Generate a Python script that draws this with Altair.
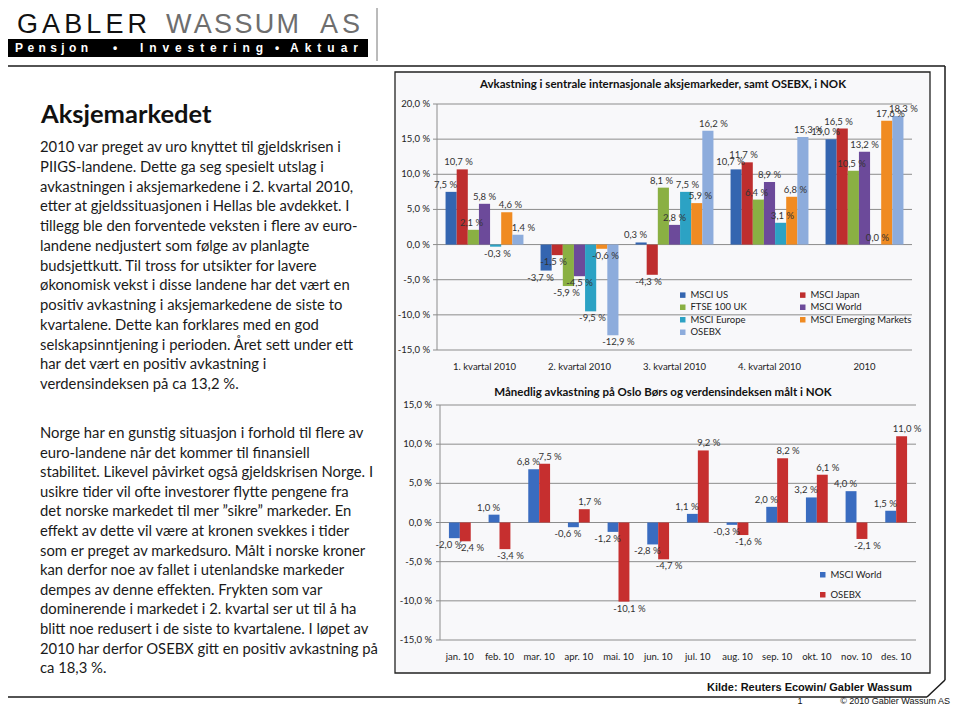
import altair as alt
import pandas as pd

# ---------------- data ----------------
quarters = ["1. kvartal 2010", "2. kvartal 2010", "3. kvartal 2010", "4. kvartal 2010", "2010"]
series = ["MSCI US", "MSCI Japan", "FTSE 100 UK", "MSCI World", "MSCI Europe",
          "MSCI Emerging Markets", "OSEBX"]
series_colors = ["#3465B0", "#BE2E2E", "#8AB043", "#6C4A9A", "#2CA2C4", "#F08B22", "#8DACDC"]
msci_us = [7.5, -3.7, 0.3, 10.7, 15.0]
msci_japan = [10.7, -1.5, -4.3, 11.7, 16.5]
ftse_100_uk = [2.1, -5.9, 8.1, 6.4, 10.5]
msci_world_q = [5.8, -4.5, 2.8, 8.9, 13.2]
msci_europe = [-0.3, -9.5, 7.5, 3.1, 0.0]
msci_em = [4.6, -0.6, 5.9, 6.8, 17.6]
osebx_q = [1.4, -12.9, 16.2, 15.3, 18.3]

months = ["jan. 10", "feb. 10", "mar. 10", "apr. 10", "mai. 10", "jun. 10",
          "jul. 10", "aug. 10", "sep. 10", "okt. 10", "nov. 10", "des. 10"]
monthly_series = ["MSCI World", "OSEBX"]
monthly_colors = ["#3A6CC0", "#C62F2F"]
msci_world_m = [-2.0, 1.0, 6.8, -0.6, -1.2, -2.8, 1.1, -0.3, 2.0, 3.2, 4.0, 1.5]
osebx_m = [-2.4, -3.4, 7.5, 1.7, -10.1, -4.7, 9.2, -1.6, 8.2, 6.1, -2.1, 11.0]

y1_ticks = [-15, -10, -5, 0, 5, 10, 15, 20]
y2_ticks = [-15, -10, -5, 0, 5, 10, 15]

title1 = "Avkastning i sentrale internasjonale aksjemarkeder, samt OSEBX, i NOK"
title2 = "Månedlig avkastning på Oslo Børs og verdensindeksen målt i NOK"
heading = "Aksjemarkedet"
para1 = [
    "2010 var preget av uro knyttet til gjeldskrisen i",
    "PIIGS-landene. Dette ga seg spesielt utslag i",
    "avkastningen i aksjemarkedene i 2. kvartal 2010,",
    "etter at gjeldssituasjonen i Hellas ble avdekket. I",
    "tillegg ble den forventede veksten i flere av euro-",
    "landene nedjustert som følge av planlagte",
    "budsjettkutt. Til tross for utsikter for lavere",
    "økonomisk vekst i disse landene har det vært en",
    "positiv avkastning i aksjemarkedene de siste to",
    "kvartalene. Dette kan forklares med en god",
    "selskapsinntjening i perioden. Året sett under ett",
    "har det vært en positiv avkastning i",
    "verdensindeksen på ca 13,2 %.",
]
para2 = [
    "Norge har en gunstig situasjon i forhold til flere av",
    "euro-landene når det kommer til finansiell",
    "stabilitet. Likevel påvirket også gjeldskrisen Norge. I",
    "usikre tider vil ofte investorer flytte pengene fra",
    "det norske markedet til mer \u201dsikre\u201d markeder. En",
    "effekt av dette vil være at kronen svekkes i tider",
    "som er preget av markedsuro. Målt i norske kroner",
    "kan derfor noe av fallet i utenlandske markeder",
    "dempes av denne effekten. Frykten som var",
    "dominerende i markedet i 2. kvartal ser ut til å ha",
    "blitt noe redusert i de siste to kvartalene. I løpet av",
    "2010 har derfor OSEBX gitt en positiv avkastning på",
    "ca 18,3 %.",
]
logo_words = ["GABLER", "WASSUM", "AS"]
tagline_words = ["Pensjon", "Investering", "Aktuar"]
source_text = "Kilde: Reuters Ecowin/ Gabler Wassum"
page_no = "1"
copyright_text = "\u00a9 2010 Gabler  Wassum AS"


def pct(v):
    return f"{v:.1f}".replace(".", ",") + " %"


rows1 = []
for s, vals in zip(series, [msci_us, msci_japan, ftse_100_uk, msci_world_q,
                            msci_europe, msci_em, osebx_q]):
    for q, v in zip(quarters, vals):
        rows1.append({"period": q, "series": s, "value": v, "label": pct(v)})
df1 = pd.DataFrame(rows1)

rows2 = []
for s, vals in zip(monthly_series, [msci_world_m, osebx_m]):
    for m, v in zip(months, vals):
        rows2.append({"month": m, "series": s, "value": v, "label": pct(v)})
df2 = pd.DataFrame(rows2)

ticks1 = pd.DataFrame({"t": y1_ticks, "lab": [pct(t) for t in y1_ticks]})
ticks2 = pd.DataFrame({"t": y2_ticks, "lab": [pct(t) for t in y2_ticks]})
cats1 = pd.DataFrame({"period": quarters})
cats2 = pd.DataFrame({"month": months})

# ---------------- layout helpers ----------------
W, H = 943, 697
OX, OY = 8, 8


def px(x):
    return x - OX


def py(y):
    return y - OY


base = alt.Chart(pd.DataFrame({"d": [0]}))


def rule(x1, y1, x2, y2, color="#1a1a1a", w=1.5):
    return base.mark_rule(color=color, strokeWidth=w).encode(
        x=alt.value(px(x1)), y=alt.value(py(y1)),
        x2=alt.value(px(x2)), y2=alt.value(py(y2)))


def text(s, x, y, size, font="Lato", weight="normal", color="#1a1a1a",
         align="left", baseline="alphabetic", lh=None):
    kw = dict(font=font, fontSize=size, fontWeight=weight, color=color,
              align=align, baseline=baseline)
    if lh:
        kw["lineHeight"] = lh
    return base.mark_text(**kw).encode(
        x=alt.value(px(x)), y=alt.value(py(y)), text=alt.value(s))


# approximate Arial advance widths (em) for letter-spaced logo words
ARIAL = {"G": .778, "A": .667, "B": .667, "L": .556, "E": .667, "R": .722, "W": .944,
         "S": .667, "U": .722, "M": .833}
ARIAL_B = {"P": .667, "e": .556, "n": .611, "s": .556, "j": .278, "o": .611, "I": .278,
           "v": .556, "t": .333, "r": .389, "i": .278, "g": .611, "A": .722, "k": .556,
           "u": .611, "a": .556}


def tracked(word, x0, x1, y, size, widths, **kw):
    natural = sum(widths[c] for c in word) * size
    t = (x1 - x0 - natural) / max(len(word) - 1, 1)
    out, x = [], x0
    for c in word:
        out.append(text(c, x, y, size, font="Liberation Sans", **kw))
        x += widths[c] * size + t
    return out


GRID = "#8C8C8C"
LBL = "#222222"

layers = []

# chart box background
layers.append(base.mark_rect(fill="#F8F8FA", stroke="#222222", strokeWidth=1.3).encode(
    x=alt.value(px(395)), x2=alt.value(px(930)),
    y=alt.value(py(72)), y2=alt.value(py(673))))

# page frame
layers += [
    rule(8, 66, 945, 66),
    rule(945, 66, 945, 680),
    rule(945, 680, 927, 697),
    rule(8, 697, 927, 697),
    rule(377, 8, 377, 61, color="#777777", w=1),
]

# logo
layers.append(base.mark_rect(fill="#000000").encode(
    x=alt.value(px(8)), x2=alt.value(px(368)),
    y=alt.value(py(39)), y2=alt.value(py(57))))
for word, (x0, x1), col in zip(logo_words, [(17, 147), (166, 299), (320, 360)],
                               ["#111111", "#6E6E6E", "#6E6E6E"]):
    layers += tracked(word, x0, x1, 32.5, 27, ARIAL, color=col)
for word, (x0, x1) in zip(tagline_words, [(15, 88), (140, 263), (290, 358)]):
    layers += tracked(word, x0, x1, 52, 12, ARIAL_B, weight="bold", color="#FFFFFF")
layers += [
    text("\u2022", 115, 52, 12, font="Liberation Sans", weight="bold", color="#FFFFFF", align="center"),
    text("\u2022", 277, 52, 12, font="Liberation Sans", weight="bold", color="#FFFFFF", align="center"),
]

# left text
layers += [
    text(heading, 41, 123, 25.5, weight="bold", color="#111111"),
    text(para1, 40, 152, 14.8, lh=19.75),
    text(para2, 40, 438, 14.8, lh=19.6),
]


def chart_layers(df, xfield, cats_df, cats, ser, colors, ticks_df, yscale, xscale, oscale,
                 plot_left, plot_right, y_top_val, y_bot_val, label_x, xlab_y, legend):
    out = []
    # gridlines (extending left to form tick marks)
    out.append(alt.Chart(ticks_df).mark_rule(color=GRID, strokeWidth=1).encode(
        y=alt.Y("t:Q", scale=yscale, axis=None),
        x=alt.value(px(plot_left) - 4), x2=alt.value(px(plot_right))))
    # vertical axis line
    out.append(base.mark_rule(color=GRID, strokeWidth=1).encode(
        y=alt.Y(datum=y_top_val, scale=yscale, axis=None),
        y2=alt.Y2(datum=y_bot_val),
        x=alt.value(px(plot_left))))
    # y tick labels
    out.append(alt.Chart(ticks_df).mark_text(
        align="right", baseline="middle", font="Lato", fontSize=9.5, color=LBL).encode(
        y=alt.Y("t:Q", scale=yscale, axis=None),
        x=alt.value(px(label_x)), text="lab:N"))
    # x category labels
    out.append(alt.Chart(cats_df).mark_text(
        align="center", baseline="middle", font="Lato", fontSize=9.5, color=LBL).encode(
        x=alt.X(f"{xfield}:N", scale=xscale, sort=cats, axis=None),
        y=alt.value(py(xlab_y)), text=f"{xfield}:N"))
    # bars
    out.append(alt.Chart(df).mark_bar().encode(
        x=alt.X(f"{xfield}:N", scale=xscale, sort=cats, axis=None),
        xOffset=alt.XOffset("series:N", scale=oscale, sort=ser),
        y=alt.Y("value:Q", scale=yscale, stack=None, axis=None),
        color=alt.Color("series:N", scale=alt.Scale(domain=ser, range=colors), legend=legend),
    ))
    # value labels
    for cond, bl, dy in [("datum.value >= 0", "bottom", -2), ("datum.value < 0", "top", 2)]:
        out.append(alt.Chart(df).transform_filter(cond).mark_text(
            baseline=bl, dy=dy, font="Lato", fontSize=9.5, color="#333333").encode(
            x=alt.X(f"{xfield}:N", scale=xscale, sort=cats, axis=None),
            xOffset=alt.XOffset("series:N", scale=oscale, sort=ser),
            y=alt.Y("value:Q", scale=yscale, axis=None),
            text="label:N"))
    return out


# ---------------- chart 1 ----------------
s1x = alt.Scale(domain=quarters, range=[px(437), px(912)], paddingInner=0.18, paddingOuter=0.09)
s1y = alt.Scale(domain=[-15, 20], range=[py(350), py(104)], nice=False, zero=False)
s1o = alt.Scale(domain=series, paddingInner=0, paddingOuter=0)
legend1 = alt.Legend(orient="none", legendX=px(678), legendY=py(290), columns=2,
                     direction="horizontal", title=None, symbolType="square", symbolSize=30,
                     symbolStrokeWidth=0, labelFont="Lato", labelFontSize=9.5,
                     labelColor=LBL, rowPadding=1.5, columnPadding=51, labelOffset=3)
layers += chart_layers(df1, "period", cats1, quarters, series, series_colors, ticks1,
                       s1y, s1x, s1o, 437, 912, 20, -15, 430, 367, legend1)
layers.append(text(title1, 663, 85, 11.5, weight="bold", color="#111111",
                   align="center", baseline="middle"))

# ---------------- chart 2 ----------------
s2x = alt.Scale(domain=months, range=[px(440), px(916)], paddingInner=0.45, paddingOuter=0.225)
s2y = alt.Scale(domain=[-15, 15], range=[py(640), py(405)], nice=False, zero=False)
s2o = alt.Scale(domain=monthly_series, paddingInner=0, paddingOuter=0)
legend2 = alt.Legend(orient="none", legendX=px(818), legendY=py(570), columns=1,
                     title=None, symbolType="square", symbolSize=30,
                     symbolStrokeWidth=0, labelFont="Lato", labelFontSize=9.5,
                     labelColor=LBL, rowPadding=9, labelOffset=3)
layers += chart_layers(df2, "month", cats2, months, monthly_series, monthly_colors, ticks2,
                       s2y, s2x, s2o, 440, 916, 15, -15, 432, 657, legend2)
layers.append(text(title2, 663, 393, 11.5, weight="bold", color="#111111",
                   align="center", baseline="middle"))

# source and footer
layers += [
    text(source_text, 912, 691, 11, font="Liberation Sans", weight="bold", color="#111111",
         align="right"),
    text(page_no, 800, 703.5, 9, font="Liberation Sans", color="#111111", align="center"),
    text(copyright_text, 950, 703.5, 9, font="Liberation Sans", color="#111111", align="right"),
]

chart = alt.layer(*layers).resolve_scale(
    x="independent", y="independent", xOffset="independent", color="independent"
).properties(
    width=W, height=H, padding=0, autosize=alt.AutoSizeParams(type="none")
).configure_view(stroke=None)

chart.save("out.html", embed_options={"renderer": "svg", "actions": False})
